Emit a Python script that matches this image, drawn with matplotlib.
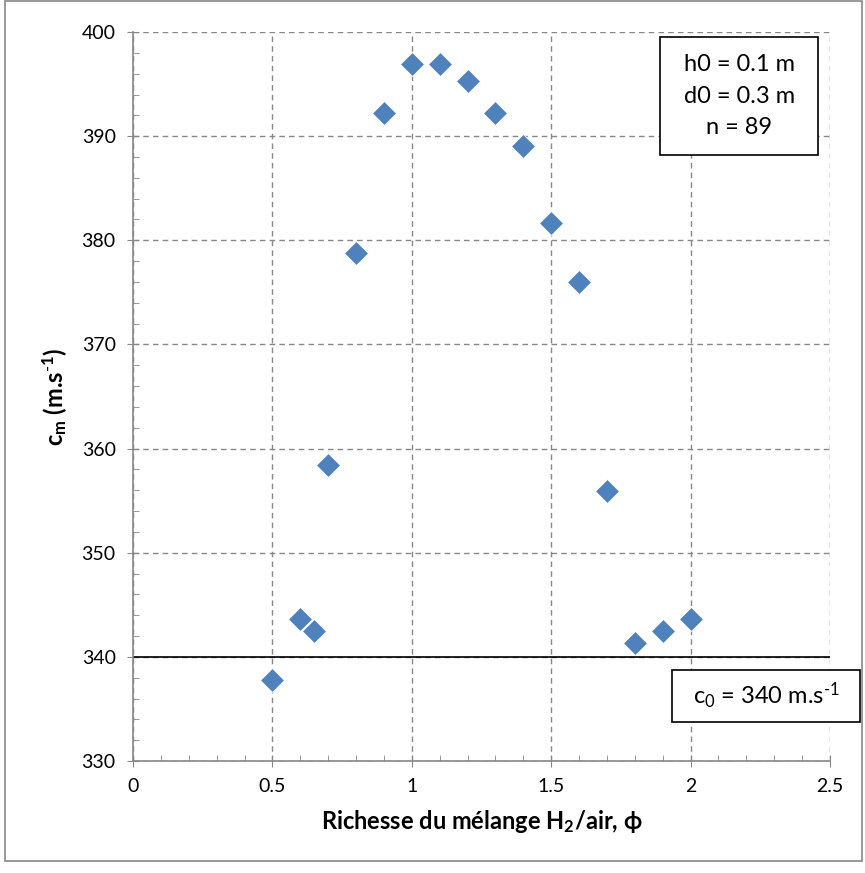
import numpy as np
import matplotlib.pyplot as plt
from matplotlib.ticker import MultipleLocator

plt.rcParams['font.family'] = ['Lato', 'DejaVu Sans']
plt.rcParams['mathtext.fontset'] = 'custom'
plt.rcParams['mathtext.rm'] = 'Lato'
plt.rcParams['mathtext.it'] = 'Lato'
plt.rcParams['mathtext.bf'] = 'Lato:weight=bold'

phi = [0.5, 0.6, 0.65, 0.7, 0.8, 0.9, 1.0, 1.1, 1.2, 1.3, 1.4, 1.5, 1.6, 1.7, 1.8, 1.9, 2.0]
cm = [337.8, 343.6, 342.5, 358.4, 378.8, 392.2, 396.9, 396.9, 395.3, 392.2, 389.1, 381.7, 376.0, 355.9, 341.3, 342.5, 343.6]
c0 = 340

fig = plt.figure(figsize=(8.65, 8.73), dpi=100)
ax = fig.add_axes([0.1538, 0.1283, 0.8057, 0.835])

ax.axhline(c0, color='black', lw=1.2, zorder=2)
ax.plot(phi, cm, 'D', color='#4F81BD', ms=12, mec='white', mew=0.6, zorder=3, clip_on=False)

ax.set_xlim(0, 2.5)
ax.set_ylim(330, 400)
ax.xaxis.set_minor_locator(MultipleLocator(0.1))
ax.yaxis.set_major_locator(MultipleLocator(10))
ax.yaxis.set_minor_locator(MultipleLocator(2))
ax.set_xticks([0, 0.5, 1, 1.5, 2, 2.5])
ax.set_xticklabels(['0', '0.5', '1', '1.5', '2', '2.5'])

ax.grid(True, which='major', ls=(0, (4, 3)), color='#888888', lw=1)
for s in ['top', 'right']:
    ax.spines[s].set_visible(False)
for s in ['left', 'bottom']:
    ax.spines[s].set_color('#888888')
    ax.spines[s].set_linewidth(1.2)
ax.tick_params(which='major', direction='inout', length=9, color='#888888', labelsize=14, pad=8)
ax.tick_params(which='minor', direction='in', length=4, color='#888888')

ax.set_xlabel(r'Richesse du mélange H$_\mathbf{2}$/air, ϕ', fontsize=17, fontweight='bold', labelpad=9)
ax.set_ylabel(r'c$_\mathbf{m}$ (m.s$^{\mathbf{\text{-}1}}$)', fontsize=17, fontweight='bold', labelpad=9)

# boites de texte
box1 = plt.Rectangle((0.763, 0.8225), 0.1827, 0.1351, transform=fig.transFigure,
                     fc='white', ec='black', lw=1.2, zorder=5)
box2 = plt.Rectangle((0.7769, 0.1730), 0.2173, 0.0596, transform=fig.transFigure,
                     fc='white', ec='black', lw=1.2, zorder=5)
fig.patches.extend([box1, box2])
fig.text(0.8545, 0.890, 'h0 = 0.1 m\nd0 = 0.3 m\nn = 89', ha='center', va='center', fontsize=17,
         linespacing=1.6, zorder=6)
fig.text(0.8855, 0.2027, r'c$_0$ = 340 m.s$^{\text{-}1}$', ha='center', va='center', fontsize=17, zorder=6)

border = plt.Rectangle((0.006, 0.014), 0.99, 0.985, transform=fig.transFigure, fill=False,
                       ec='#888888', lw=1.2)
fig.patches.append(border)

fig.savefig('out.png', dpi=100)
